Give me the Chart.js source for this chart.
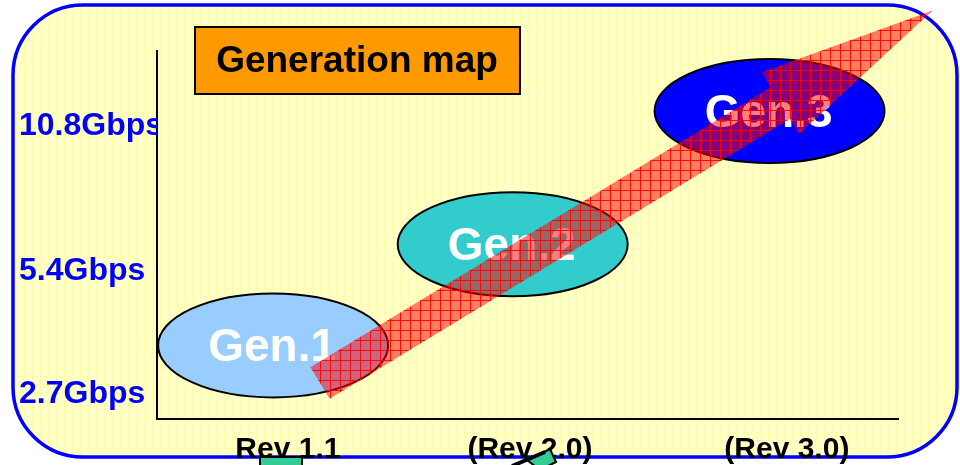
<!DOCTYPE html>
<html>
<head>
<meta charset="utf-8">
<script src="https://cdn.jsdelivr.net/npm/chart.js"></script>
<style>
  html, body { margin: 0; padding: 0; background: #fff; }
  #wrap { width: 960px; height: 465px; position: relative; }
</style>
</head>
<body>
<div id="wrap"><canvas id="genChart"></canvas></div>
<script>
// x axis: revisions (axis runs 0..3)
const revLabels = ["Rev 1.1", "(Rev 2.0)", "(Rev 3.0)"];
const revPositions = [0.53, 1.51, 2.55];

// y axis: link rates (axis runs 0..10)
const speedLabels = ["2.7Gbps", "5.4Gbps", "10.8Gbps"];
const speedPositions = [0.68, 4.03, 7.96];

// generations, centre of each ellipse
const genLabels = ["Gen.1", "Gen.2", "Gen.3"];
const genX = [0.47, 1.44, 2.48];
const genY = [2.0, 4.75, 8.37];

// the big arrow, tail then tip
const arrowX = [0.66, 3.14];
const arrowY = [0.98, 11.1];

const FONT = "'Liberation Sans', Arial, sans-serif";
const genColors = ["#99CCFF", "#33CCCC", "#0000FF"];

function makePattern(ctx, size, bg, line) {
  const c = document.createElement("canvas");
  c.width = size;
  c.height = size;
  const p = c.getContext("2d");
  p.fillStyle = bg;
  p.fillRect(0, 0, size, size);
  p.fillStyle = line;
  p.fillRect(0, 0, size, 1);
  p.fillRect(0, 0, 1, size);
  return ctx.createPattern(c, "repeat");
}

function roundRect(ctx, x, y, w, h, r) {
  ctx.beginPath();
  ctx.moveTo(x + r, y);
  ctx.lineTo(x + w - r, y);
  ctx.arcTo(x + w, y, x + w, y + r, r);
  ctx.lineTo(x + w, y + h - r);
  ctx.arcTo(x + w, y + h, x + w - r, y + h, r);
  ctx.lineTo(x + r, y + h);
  ctx.arcTo(x, y + h, x, y + h - r, r);
  ctx.lineTo(x, y + r);
  ctx.arcTo(x, y, x + r, y, r);
  ctx.closePath();
}

const mapPlugin = {
  id: "generationMap",
  beforeDraw(chart) {
    const ctx = chart.ctx;
    ctx.save();
    ctx.fillStyle = "#fff";
    ctx.fillRect(0, 0, chart.width, chart.height);
    roundRect(ctx, 13, 5, 944, 452, 70);
    ctx.fillStyle = makePattern(ctx, 8, "#FFFFCC", "#FFFFAA");
    ctx.fill();
    ctx.lineWidth = 3.5;
    ctx.strokeStyle = "#0000FF";
    ctx.stroke();
    ctx.restore();
  },
  afterDatasetsDraw(chart) {
    const ctx = chart.ctx;
    const gens = chart.getDatasetMeta(0).data;
    ctx.save();
    gens.forEach((pt, i) => {
      ctx.beginPath();
      ctx.ellipse(pt.x, pt.y, 115, 52, 0, 0, Math.PI * 2);
      ctx.fillStyle = genColors[i];
      ctx.fill();
      ctx.lineWidth = 2;
      ctx.strokeStyle = "#000";
      ctx.stroke();
    });
    ctx.font = "bold 46px " + FONT;
    ctx.fillStyle = "#fff";
    ctx.textAlign = "center";
    ctx.textBaseline = "middle";
    gens.forEach((pt, i) => ctx.fillText(genLabels[i], pt.x - 1, pt.y + 3));

    // arrow from tail to tip
    const arr = chart.getDatasetMeta(1).data;
    const t0 = arr[0], t1 = arr[1];
    const dx = t1.x - t0.x, dy = t1.y - t0.y;
    const len = Math.hypot(dx, dy);
    const ux = dx / len, uy = dy / len;
    const nx = -uy, ny = ux;
    const sw = 18.5, hw = 36, hl = 178;
    const bx = t1.x - ux * hl, by = t1.y - uy * hl;
    ctx.beginPath();
    ctx.moveTo(t0.x + nx * sw, t0.y + ny * sw);
    ctx.lineTo(bx + nx * sw, by + ny * sw);
    ctx.lineTo(bx + nx * hw, by + ny * hw);
    ctx.lineTo(t1.x, t1.y);
    ctx.lineTo(bx - nx * hw, by - ny * hw);
    ctx.lineTo(bx - nx * sw, by - ny * sw);
    ctx.lineTo(t0.x - nx * sw, t0.y - ny * sw);
    ctx.closePath();
    ctx.fillStyle = makePattern(ctx, 10, "rgba(255,0,0,0.5)", "rgba(255,0,0,0.9)");
    ctx.fill();
    ctx.restore();
  },
  afterDraw(chart) {
    const ctx = chart.ctx;
    ctx.save();
    // title box
    ctx.fillStyle = "#FF9900";
    ctx.fillRect(195, 27, 325, 67);
    ctx.lineWidth = 2;
    ctx.strokeStyle = "#000";
    ctx.strokeRect(195, 27, 325, 67);
    ctx.fillStyle = "#000";
    ctx.font = "bold 37px " + FONT;
    ctx.textAlign = "center";
    ctx.textBaseline = "middle";
    ctx.fillText("Generation map", 357, 62);

    // bits of the next drawing peeking in at the bottom
    ctx.fillStyle = "#33CC99";
    ctx.fillRect(260, 457, 42, 10);
    ctx.strokeRect(260, 457, 42, 10);
    ctx.beginPath();
    ctx.moveTo(527, 460);
    ctx.lineTo(550, 449);
    ctx.lineTo(556, 462);
    ctx.lineTo(540, 470);
    ctx.closePath();
    ctx.fill();
    ctx.stroke();
    ctx.lineWidth = 4;
    ctx.beginPath();
    ctx.moveTo(512, 466);
    ctx.lineTo(545, 452);
    ctx.stroke();
    ctx.restore();
  }
};

new Chart(document.getElementById("genChart"), {
  type: "scatter",
  data: {
    datasets: [
      {
        label: "Generations",
        data: genX.map((x, i) => ({ x: x, y: genY[i] })),
        pointRadius: 0,
        showLine: false
      },
      {
        label: "Arrow",
        data: arrowX.map((x, i) => ({ x: x, y: arrowY[i] })),
        pointRadius: 0,
        showLine: false
      }
    ]
  },
  options: {
    responsive: true,
    maintainAspectRatio: false,
    animation: false,
    events: [],
    layout: { padding: { left: 19, right: 62, top: 51, bottom: 0 } },
    plugins: {
      legend: { display: false },
      tooltip: { enabled: false },
      title: { display: false }
    },
    scales: {
      x: {
        type: "linear",
        min: 0,
        max: 3,
        grid: { display: false, drawTicks: false },
        border: { display: true, color: "#000", width: 2 },
        ticks: {
          color: "#000",
          font: { family: FONT, size: 30, weight: "bold" },
          padding: 13,
          autoSkip: false,
          maxRotation: 0,
          callback: (v, i) => revLabels[i]
        },
        afterBuildTicks: (s) => { s.ticks = revPositions.map((v) => ({ value: v })); },
        afterFit: (s) => { s.height = 46; }
      },
      y: {
        type: "linear",
        position: "left",
        min: 0,
        max: 10,
        grid: { display: false, drawTicks: false },
        border: { display: true, color: "#000", width: 2 },
        ticks: {
          color: "#0000FF",
          crossAlign: "far",
          font: { family: FONT, size: 32, weight: "bold" },
          padding: 0,
          autoSkip: false,
          callback: (v, i) => speedLabels[i]
        },
        afterBuildTicks: (s) => { s.ticks = speedPositions.map((v) => ({ value: v })); },
        afterFit: (s) => { s.width = 138; }
      }
    }
  },
  plugins: [mapPlugin]
});
</script>
</body>
</html>
